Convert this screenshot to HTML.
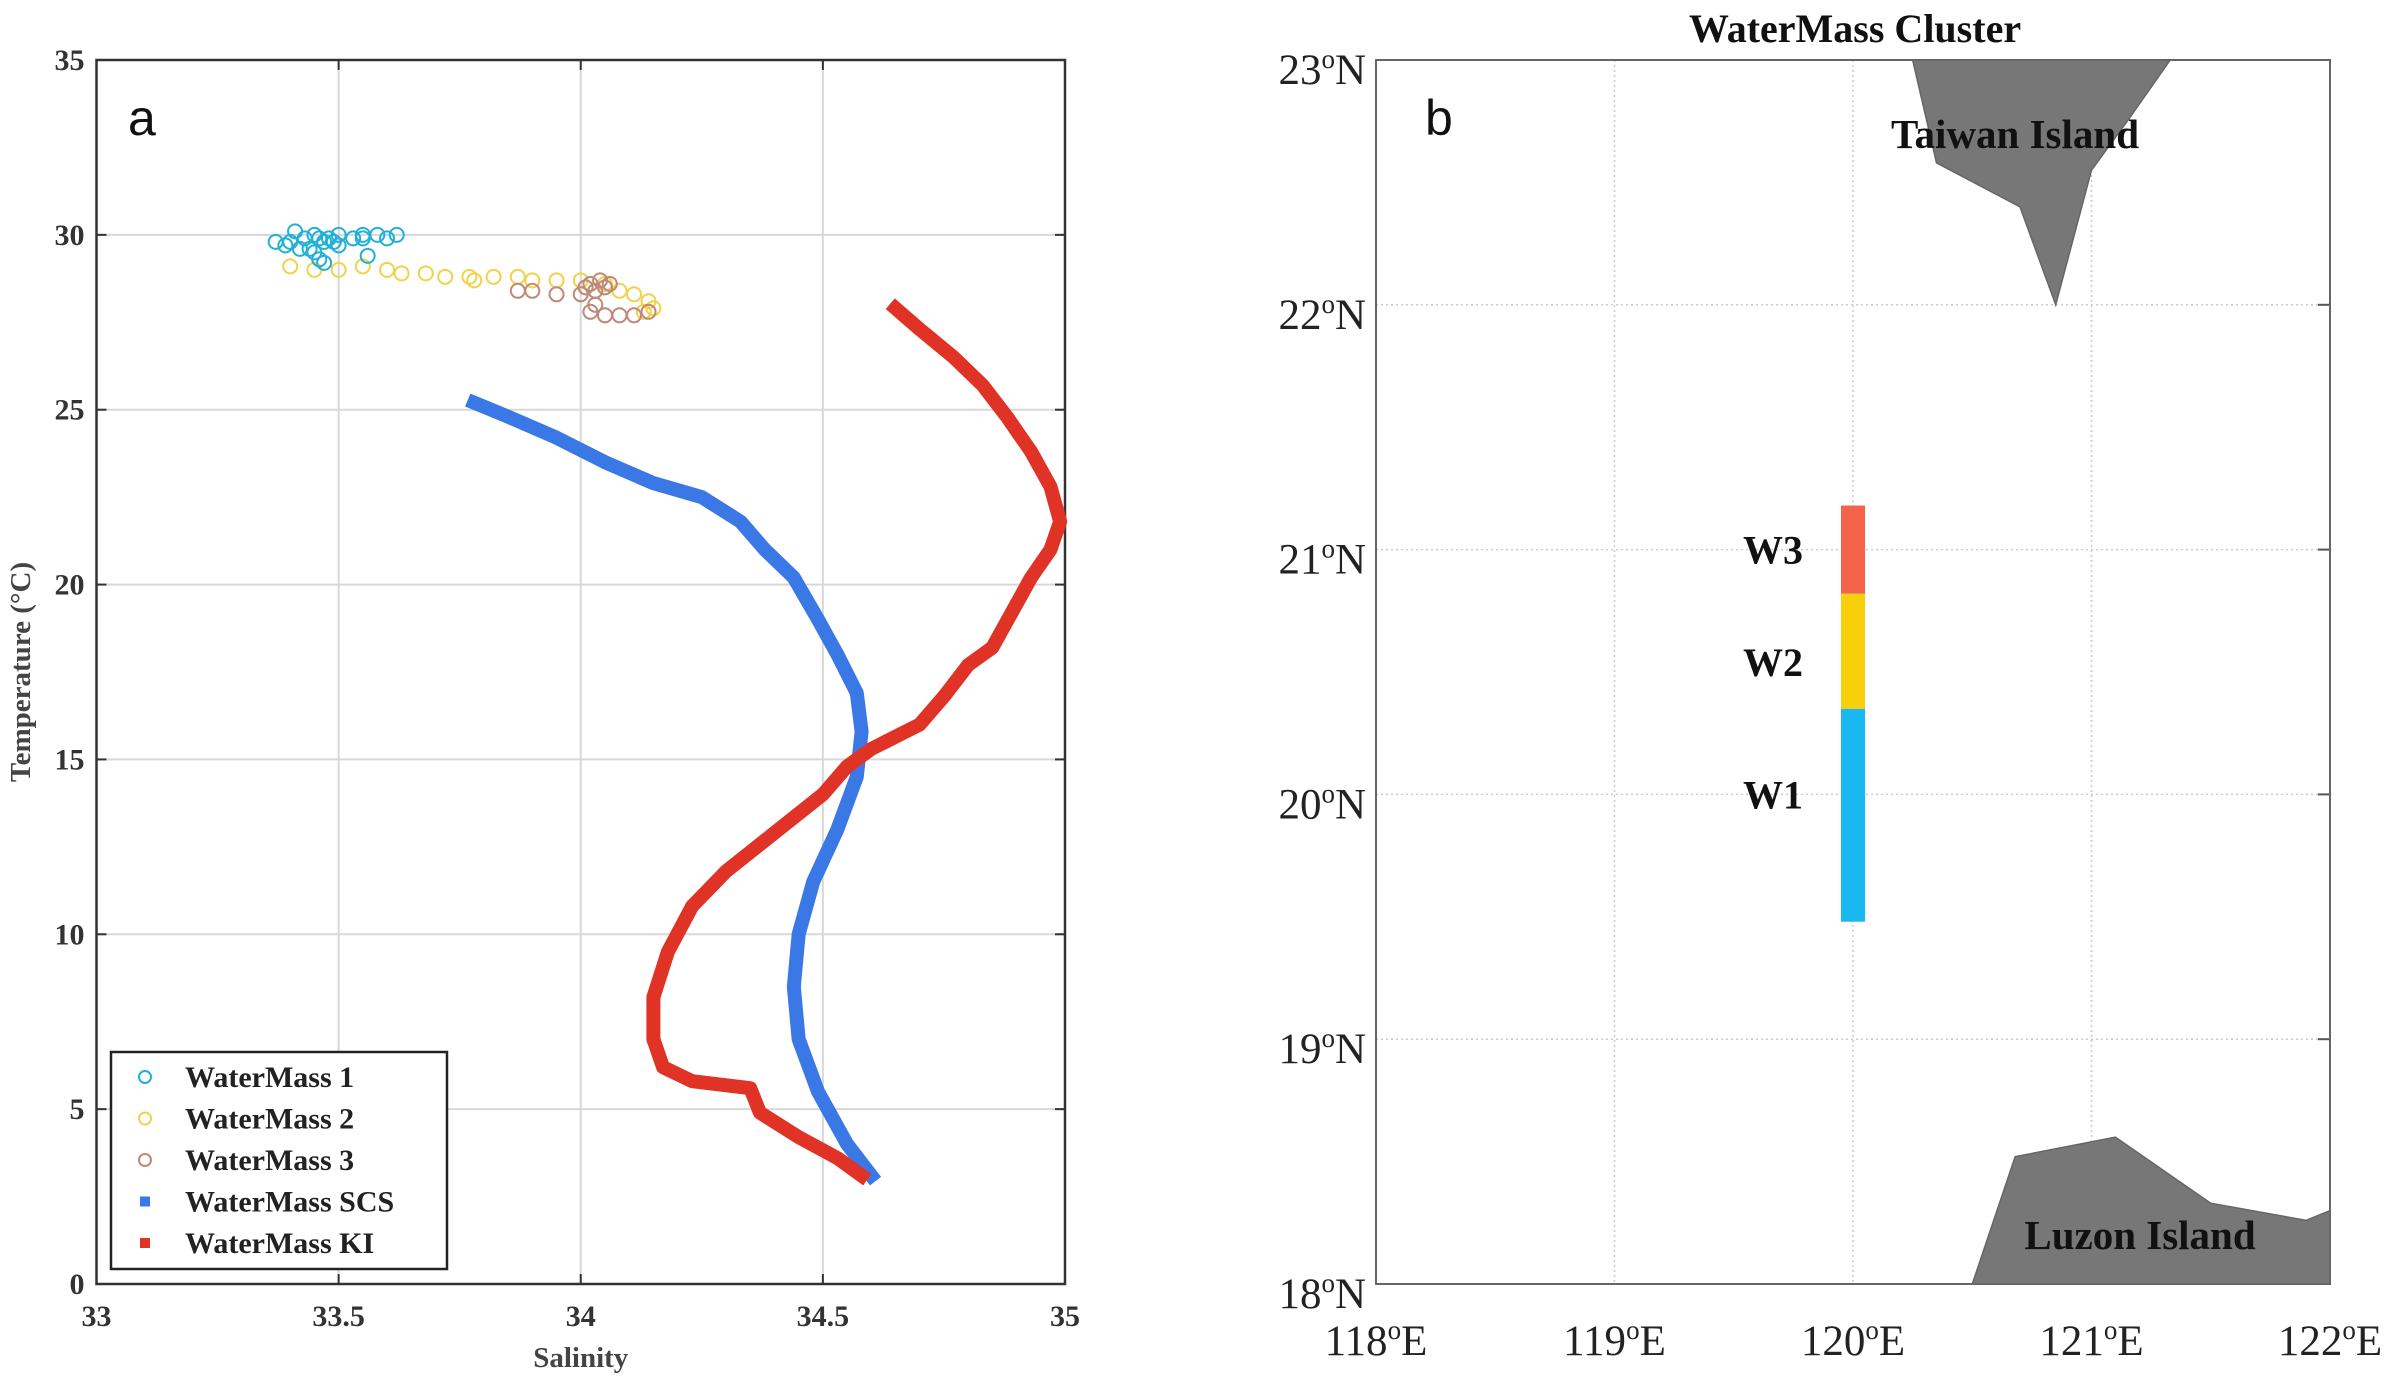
<!DOCTYPE html>
<html><head><meta charset="utf-8"><style>
html,body{margin:0;padding:0;background:#fff;}
svg{display:block;}
</style></head><body>
<svg id="fig" width="2397" height="1387" viewBox="0 0 2397 1387" xmlns="http://www.w3.org/2000/svg"></svg>
<script>
// ---- Panel a data ----
const tTicks=[0,5,10,15,20,25,30,35];
const sTicks=[33,33.5,34,34.5,35];
const sTickLabels=["33","33.5","34","34.5","35"];
const scsSal=[33.78,33.85,33.95,34.05,34.15,34.25,34.33,34.38,34.44,34.49,34.53,34.57,34.58,34.57,34.53,34.48,34.45,34.44,34.45,34.49,34.55,34.6];
const scsTemp=[25.2,24.8,24.2,23.5,22.9,22.5,21.8,21.0,20.2,19.0,18.0,16.9,15.8,14.5,13.0,11.5,10.0,8.5,7.0,5.5,4.0,3.1];
const kiSal=[34.65,34.7,34.77,34.83,34.88,34.93,34.97,34.99,34.97,34.93,34.89,34.85,34.8,34.75,34.7,34.6,34.55,34.5,34.4,34.3,34.23,34.18,34.15,34.15,34.17,34.23,34.35,34.37,34.45,34.53,34.58];
const kiTemp=[27.9,27.3,26.5,25.7,24.8,23.8,22.8,21.8,21.0,20.2,19.2,18.2,17.7,16.8,16.0,15.3,14.8,14.0,12.9,11.8,10.8,9.5,8.2,7.0,6.2,5.8,5.6,4.9,4.2,3.6,3.1];
const wm1Sal=[33.37,33.39,33.41,33.43,33.44,33.45,33.46,33.47,33.48,33.5,33.53,33.55,33.56,33.58,33.6,33.62,33.4,33.45,33.47,33.5,33.55,33.42,33.46,33.49];
const wm1Temp=[29.8,29.7,30.1,29.9,29.6,30.0,29.3,29.8,29.9,30.0,29.9,29.9,29.4,30.0,29.9,30.0,29.8,29.5,29.2,29.7,30.0,29.6,29.9,29.8];
const wm2Sal=[33.4,33.45,33.5,33.55,33.6,33.63,33.68,33.72,33.77,33.78,33.82,33.87,33.9,33.95,34.0,34.05,34.08,34.11,34.14,34.15,34.13];
const wm2Temp=[29.1,29.0,29.0,29.1,29.0,28.9,28.9,28.8,28.8,28.7,28.8,28.8,28.7,28.7,28.7,28.6,28.4,28.3,28.1,27.9,27.8];
const wm3Sal=[33.87,33.9,33.95,34.0,34.01,34.02,34.03,34.04,34.05,34.06,34.03,34.02,34.05,34.08,34.11,34.14];
const wm3Temp=[28.4,28.4,28.3,28.3,28.5,28.6,28.4,28.7,28.5,28.6,28.0,27.8,27.7,27.7,27.7,27.8];
// ---- Panel b data ----
const lonTicks=[118,119,120,121,122];
const latTicks=[18,19,20,21,22,23];
const taiwanLon=[120.25,121.33,121.15,121.0,120.85,120.7,120.35];
const taiwanLat=[23,23,22.75,22.55,22.0,22.4,22.58];
const luzonLon=[120.5,120.68,121.1,121.5,121.9,122,122];
const luzonLat=[18,18.52,18.6,18.33,18.26,18.3,18];
const clusterNames=["W1","W2","W3"];
const clusterTop=[20.35,20.82,21.18];
const clusterBot=[19.48,20.35,20.82];
const clusterLabelLat=[20.0,20.54,21.0];
const clusterColors=["#1ab8f0","#f8cf0b","#f4644a"];
const clusterLon=120;

const NS="http://www.w3.org/2000/svg";
const svg=document.getElementById('fig');
function el(tag,attrs,parent,text){const e=document.createElementNS(NS,tag);for(const k in attrs)e.setAttribute(k,attrs[k]);if(text!==undefined)e.textContent=text;(parent||svg).appendChild(e);return e;}

// Panel a axes
const A={x0:96.5,x1:1065,y0:60,y1:1284};
const sx=s=>A.x0+(s-33)/2*(A.x1-A.x0);
const ty=t=>A.y1-t/35*(A.y1-A.y0);
const ga=el('g',{});


sTicks.forEach((s,i)=>{
  const l=el('line',{x1:sx(s),x2:sx(s),y1:A.y0,y2:A.y1,stroke:'#d8d8d8','stroke-width':2},ga);
  
  el('line',{x1:sx(s),x2:sx(s),y1:A.y1,y2:A.y1-10,stroke:'#333','stroke-width':2},ga);
  el('line',{x1:sx(s),x2:sx(s),y1:A.y0,y2:A.y0+10,stroke:'#333','stroke-width':2},ga);
  const t=el('text',{x:sx(s),y:A.y1+42,'text-anchor':'middle','font-family':'Liberation Serif, serif','font-weight':'bold','font-size':30,fill:'#333'},ga,sTickLabels[i]);
  
});
tTicks.forEach(v=>{
  const l=el('line',{x1:A.x0,x2:A.x1,y1:ty(v),y2:ty(v),stroke:'#d8d8d8','stroke-width':2},ga);
  
  el('line',{x1:A.x0,x2:A.x0+10,y1:ty(v),y2:ty(v),stroke:'#333','stroke-width':2},ga);
  el('line',{x1:A.x1,x2:A.x1-10,y1:ty(v),y2:ty(v),stroke:'#333','stroke-width':2},ga);
  const t=el('text',{x:A.x0-12,y:ty(v)+10,'text-anchor':'end','font-family':'Liberation Serif, serif','font-weight':'bold','font-size':30,fill:'#333'},ga,String(v));
  
});
const fr=el('rect',{x:A.x0,y:A.y0,width:A.x1-A.x0,height:A.y1-A.y0,fill:'none',stroke:'#333','stroke-width':2.5},ga);

const xt=el('text',{x:(A.x0+A.x1)/2,y:1367,'text-anchor':'middle','font-family':'Liberation Serif, serif','font-weight':'bold','font-size':29,fill:'#444'},ga,'Salinity');

const yt=el('text',{x:0,y:0,transform:`translate(30,${(A.y0+A.y1)/2}) rotate(-90)`,'text-anchor':'middle','font-family':'Liberation Serif, serif','font-weight':'bold','font-size':29,fill:'#444'},ga,'Temperature (°C)');

const pa=el('text',{x:128,y:135,'font-family':'Liberation Sans, sans-serif','font-size':50,fill:'#111'},ga,'a');


function scatter(S,T,color,name){
  const g=el('g',{},ga);
  S.forEach((s,i)=>{const c=el('circle',{cx:sx(s),cy:ty(T[i]),r:7,fill:'none',stroke:color,'stroke-width':2},g);
    });
}
scatter(wm2Sal,wm2Temp,'#f2d24a','watermass-2-series');
scatter(wm3Sal,wm3Temp,'#c08878','watermass-3-series');
scatter(wm1Sal,wm1Temp,'#22b0d8','watermass-1-series');
function thick(S,T,color,name){
  const p=el('polyline',{points:S.map((s,i)=>sx(s)+','+ty(T[i])).join(' '),fill:'none',stroke:color,'stroke-width':14,'stroke-linejoin':'round','stroke-linecap':'square'},ga);
  
}
thick(scsSal,scsTemp,'#3a78e6','watermass-scs-line');
thick(kiSal,kiTemp,'#e03326','watermass-ki-line');

// legend
const lg=el('g',{},ga);
el('rect',{x:111,y:1052,width:336,height:217,fill:'#fff',stroke:'#222','stroke-width':2.5},lg);
const legNames=['WaterMass 1','WaterMass 2','WaterMass 3','WaterMass SCS','WaterMass KI'];
const legCols=['#22b0d8','#f2d24a','#c08878','#3a78e6','#e03326'];
legNames.forEach((n,i)=>{
  const y=1077+i*41.5;
  const e=el('g',{},lg);
  if(i<3)el('circle',{cx:145,cy:y,r:6,fill:'none',stroke:legCols[i],'stroke-width':2},e);
  else el('rect',{x:140,y:y-5,width:10,height:10,fill:legCols[i]},e);
  el('text',{x:185,y:y+10,'font-family':'Liberation Serif, serif','font-weight':'bold','font-size':30,fill:'#222'},e,n);
});

// Panel b
const B={x0:1376,x1:2330,y0:60,y1:1284};
const lx=l=>B.x0+(l-118)/4*(B.x1-B.x0);
const ly=l=>B.y1-(l-18)/5*(B.y1-B.y0);
const gb=el('g',{});
const land=(LO,LA,name)=>{const p=el('polygon',{points:LO.map((o,i)=>lx(o)+','+ly(LA[i])).join(' '),fill:'#777',stroke:'#666','stroke-width':1.5},gb);
  };
lonTicks.forEach(v=>{
  const l=el('line',{x1:lx(v),x2:lx(v),y1:B.y0,y2:B.y1,stroke:'#ccc','stroke-width':1.5,'stroke-dasharray':'2,3'},gb);
  
  const t=el('text',{x:lx(v),y:1355,'text-anchor':'middle','font-family':'Liberation Serif, serif','font-size':43,fill:'#222'},gb);
  
  t.appendChild(document.createTextNode(v));el('tspan',{dy:-16,'font-size':27},t,'o');el('tspan',{dy:16},t,'E');
});
latTicks.forEach(v=>{
  const l=el('line',{x1:B.x0,x2:B.x1,y1:ly(v),y2:ly(v),stroke:'#ccc','stroke-width':1.5,'stroke-dasharray':'2,3'},gb);
  
  el('line',{x1:B.x1,x2:B.x1-12,y1:ly(v),y2:ly(v),stroke:'#555','stroke-width':2},gb);
  const t=el('text',{x:B.x0-10,y:ly(v)+24,'text-anchor':'end','font-family':'Liberation Serif, serif','font-size':43,fill:'#222'},gb);
  
  t.appendChild(document.createTextNode(v));el('tspan',{dy:-16,'font-size':27},t,'o');el('tspan',{dy:16},t,'N');
});
land(taiwanLon,taiwanLat,'taiwan-island');
land(luzonLon,luzonLat,'luzon-island');
const bf=el('rect',{x:B.x0,y:B.y0,width:B.x1-B.x0,height:B.y1-B.y0,fill:'none',stroke:'#666','stroke-width':2},gb);

clusterNames.forEach((n,i)=>{
  const r=el('rect',{x:lx(clusterLon)-12,y:ly(clusterTop[i]),width:24,height:ly(clusterBot[i])-ly(clusterTop[i]),fill:clusterColors[i]},gb);
  
  const t=el('text',{x:lx(clusterLon)-50,y:ly(clusterLabelLat[i])+14,'text-anchor':'end','font-family':'Liberation Serif, serif','font-weight':'bold','font-size':40,fill:'#111'},gb,n);
  
});
const tl=el('text',{x:2015,y:148,'text-anchor':'middle','font-family':'Liberation Serif, serif','font-weight':'bold','font-size':41,fill:'#111'},gb,'Taiwan Island');

const ll=el('text',{x:2140,y:1249,'text-anchor':'middle','font-family':'Liberation Serif, serif','font-weight':'bold','font-size':41,fill:'#111'},gb,'Luzon Island');

const ti=el('text',{x:1855,y:42,'text-anchor':'middle','font-family':'Liberation Serif, serif','font-weight':'bold','font-size':40,fill:'#111'},gb,'WaterMass Cluster');

const pb=el('text',{x:1425,y:135,'font-family':'Liberation Sans, sans-serif','font-size':50,fill:'#111'},gb,'b');

</script>
</body></html>
